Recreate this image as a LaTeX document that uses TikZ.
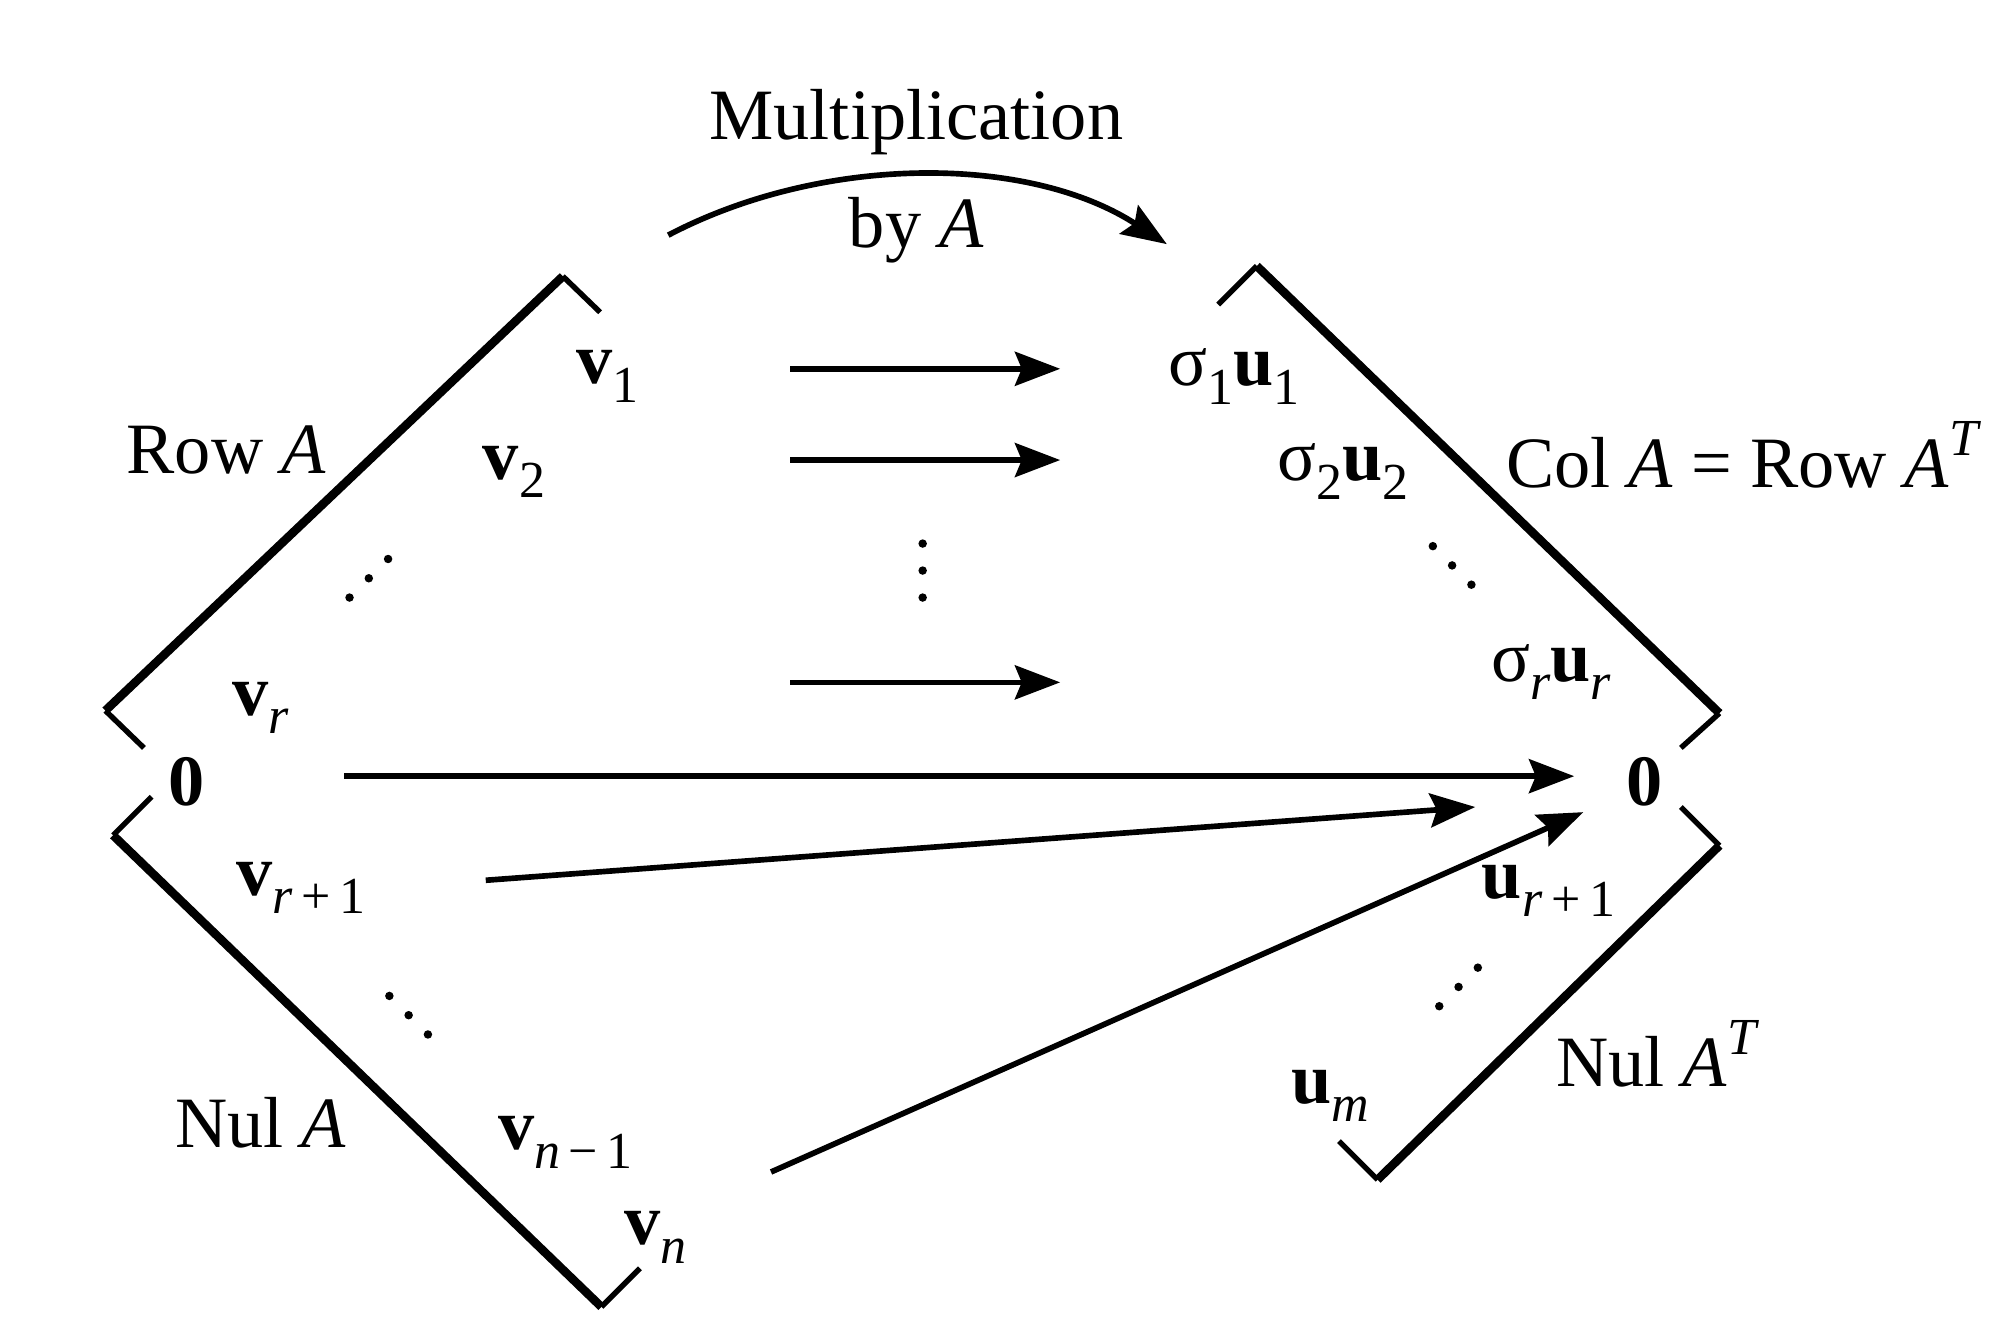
\documentclass[tikz,border=0pt]{standalone}
\usepackage{fontspec}
\setmainfont{Liberation Serif}
\usetikzlibrary{arrows.meta}
\newcommand\sbs[1]{\raisebox{-0.55ex}{\fontsize{11.5}{12}\selectfont #1}}
\newcommand\sps[1]{\raisebox{0.95ex}{\fontsize{11.5}{12}\selectfont #1}}
\begin{document}
\begin{tikzpicture}[x=0.01cm,y=-0.01cm,
  lbl/.style={inner sep=0pt,font=\fontsize{16}{19}\selectfont},
  mainline/.style={line width=1.9pt},
  tick/.style={line width=1.2pt},
  arr/.style={line width=1.25pt,-{Stealth[length=10pt,width=7.5pt,inset=1.5pt]}},
  dotc/.style={fill=black}
]
\useasboundingbox (0,0) rectangle (1568,1040);
% brackets
\draw[tick] (467,243) -- (438,215);
\draw[mainline] (438,215) -- (82,553);
\draw[tick] (82,553) -- (112,582);
\draw[tick] (118,620) -- (88,650);
\draw[mainline] (88,650) -- (468,1017);
\draw[tick] (468,1017) -- (498,987);
\draw[tick] (948,237) -- (978,207);
\draw[mainline] (978,207) -- (1338,555);
\draw[tick] (1338,555) -- (1308,582);
\draw[tick] (1308,628) -- (1338,658);
\draw[mainline] (1338,658) -- (1072,918);
\draw[tick] (1072,918) -- (1042,888);
% labels
\node[lbl] (mult) at (713,95) {Multiplication};
\node[lbl] (byA) at (713,179) {by \textit{A}};
\node[lbl] (rowA) at (176,350) {Row \textit{A}};
\node[lbl] (nulA) at (203,874) {Nul \textit{A}};
\node[lbl] (colA) at (1357,354) {Col \textit{A} = Row \textit{A}\sps{\textit{T}}};
\node[lbl] (nulAT) at (1290,820) {Nul \textit{A}\sps{\textit{T}}};
\node[lbl] (v1) at (473,293) {\textbf{v}\sbs{1}};
\node[lbl] (v2) at (400,367) {\textbf{v}\sbs{2}};
\node[lbl] (vr) at (203,551) {\textbf{v}\sbs{\textit{r}}};
\node[lbl] (zl) at (145,608) {\textbf{0}};
\node[lbl] (vr1) at (234,691) {\textbf{v}\sbs{\textit{r}\,+\,1}};
\node[lbl] (vn1) at (440,889) {\textbf{v}\sbs{\textit{n}\,−\,1}};
\node[lbl] (vn) at (510,963) {\textbf{v}\sbs{\textit{n}}};
\node[lbl] (s1) at (960,293) {σ\sbs{1}\textbf{u}\sbs{1}};
\node[lbl] (s2) at (1045,367) {σ\sbs{2}\textbf{u}\sbs{2}};
\node[lbl] (sr) at (1207,523) {σ\sbs{\textit{r}}\textbf{u}\sbs{\textit{r}}};
\node[lbl] (zr) at (1280,608) {\textbf{0}};
\node[lbl] (ur1) at (1205,693) {\textbf{u}\sbs{\textit{r}\,+\,1}};
\node[lbl] (um) at (1035,853) {\textbf{u}\sbs{\textit{m}}};
% dots
\foreach \p in {(272,465),(287,450),(302,435)} \fill[dotc] \p circle (3.3);
\foreach \p in {(303,775),(318,790),(333,805)} \fill[dotc] \p circle (3.3);
\foreach \p in {(718,423),(718,444),(718,465)} \fill[dotc] \p circle (3.3);
\foreach \p in {(1115,425),(1130,440),(1145,455)} \fill[dotc] \p circle (3.3);
\foreach \p in {(1120,783),(1135,768),(1150,753)} \fill[dotc] \p circle (3.3);
% arrow coordinates
\coordinate (c0a) at (520,183); \coordinate (c0b) at (908,190);
\coordinate (h1a) at (615,287); \coordinate (h1b) at (825,287);
\coordinate (h2a) at (615,358); \coordinate (h2b) at (825,358);
\coordinate (h3a) at (615,531); \coordinate (h3b) at (825,531);
\coordinate (z1a) at (268,604); \coordinate (z1b) at (1225,604);
\coordinate (z2a) at (378,685); \coordinate (z2b) at (1148,628);
\coordinate (z3a) at (600,912); \coordinate (z3b) at (1232,632);
% arrows
\draw[arr] (c0a) .. controls (640,120) and (800,120) .. (c0b);
\draw[arr] (h1a) -- (h1b);
\draw[arr] (h2a) -- (h2b);
\draw[arr] (h3a) -- (h3b);
\draw[arr] (z1a) -- (z1b);
\draw[arr] (z2a) -- (z2b);
\draw[arr] (z3a) -- (z3b);
\end{tikzpicture}
\end{document}
